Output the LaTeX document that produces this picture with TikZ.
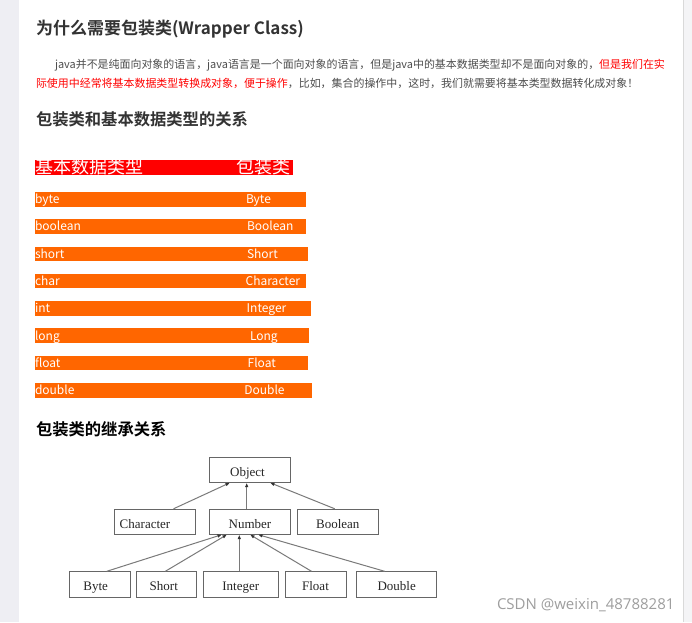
\documentclass[tikz,border=0pt]{standalone}
\usepackage{fontspec}
\setmainfont{Noto Sans CJK SC}[BoldFont={Noto Sans CJK SC Bold}]
\newfontfamily\treefont{Liberation Serif}
\newfontfamily\wmfont{Open Sans}
\usetikzlibrary{arrows.meta}
\definecolor{txt}{HTML}{4D4D4D}
\definecolor{head}{HTML}{333333}
\definecolor{orangebar}{HTML}{FF6600}
\definecolor{redc}{HTML}{FF0000}
\definecolor{side}{HTML}{EEEEF3}
\definecolor{rside}{HTML}{F4F4F6}
\definecolor{boxline}{HTML}{666666}
\definecolor{edgec}{HTML}{7A7A7A}
\definecolor{wmc}{HTML}{9E9E9E}
\begin{document}
\begin{tikzpicture}[x=1pt,y=-1pt,
  lbl/.style={anchor=base west,inner sep=0pt,outer sep=0pt},
  heading/.style={lbl,font=\fontsize{16.3}{18}\selectfont\bfseries,text=head},
  para/.style={lbl,font=\fontsize{10.95}{13}\selectfont},
  rowtext/.style={lbl,font=\fontsize{12}{14}\selectfont,text=white},
  box/.style={draw=boxline,line width=0.8pt,minimum height=25pt,inner sep=0pt,
    text height=12.8pt,text depth=0pt,
    font=\treefont\fontsize{13}{15}\selectfont,text=black!85},
  edge/.style={draw=edgec,line width=1pt,-{Latex[length=4.5pt,width=3.6pt,black!80]}}]
\useasboundingbox (0,0) rectangle (692,622);
\fill[white] (0,0) rectangle (692,622);
\fill[side] (0,0) rectangle (19,622);
\fill[rside] (683,0) rectangle (692,622);
\draw[black!15,line width=0.6pt] (683,0) -- (683,622);

% headings and paragraph
\node[lbl,font=\fontsize{17}{20}\selectfont\bfseries,text=head] (title) at (36,34) {为什么需要包装类(Wrapper Class)};
\node[para] (p1) at (55,68) {\color{txt}java并不是纯面向对象的语言，java语言是一个面向对象的语言，但是java中的基本数据类型却不是面向对象的，\color{redc}但是我们在实};
\node[para] (p2) at (36,87) {\color{redc}际使用中经常将基本数据类型转换成对象，便于操作\color{txt}，比如，集合的操作中，这时，我们就需要将基本类型数据转化成对象！};
\node[heading] (h2) at (36,125) {包装类和基本数据类型的关系};

% table
\fill[redc] (35,160) rectangle (293,174.5);
\node[lbl,font=\fontsize{18}{20}\selectfont,text=white] (th1) at (35,173) {基本数据类型};
\node[lbl,font=\fontsize{18}{20}\selectfont,text=white] (th2) at (236.5,173) {包装类};

\foreach \p/\w/\t/\e/\r [count=\i] in {byte/Byte/192/305.5/246,boolean/Boolean/219/306/247,short/Short/246.5/307.5/247,char/Character/273.5/306/245.7,int/Integer/301/311/246.7,long/Long/328.3/309.3/250,float/Float/355.7/308.3/247.7,double/Double/383/311.7/244.3}{
  \fill[orangebar] (35,\t) rectangle (\e,\t+14.6);
  \node[rowtext] (prim\i) at (35,\t+11.8) {\p};
  \node[rowtext] (wrap\i) at (\r,\t+11.8) {\w};
}

\node[lbl,font=\fontsize{16.3}{18}\selectfont\bfseries,text=black] (h3) at (36,435) {包装类的继承关系};

% tree
\node[box,minimum width=81.4pt] (obj) at (250,469.8) {\hspace*{-5pt}Object};
\node[box,minimum width=81pt] (chr) at (154.5,521.7) {\hspace*{-19pt}Character};
\node[box,minimum width=81.4pt] (num) at (250,521.7) {Number};
\node[box,minimum width=81pt] (bool) at (337.8,521.7) {Boolean};
\node[box,minimum width=60.7pt,minimum height=25.6pt] (byt) at (99.7,584.5) {\hspace*{-8pt}Byte};
\node[box,minimum width=60.7pt,minimum height=25.6pt] (sht) at (166.3,584.5) {\hspace*{-5pt}Short};
\node[box,minimum width=75pt,minimum height=25.6pt] (intg) at (240.8,584.5) {Integer};
\node[box,minimum width=61pt,minimum height=25.6pt] (flt) at (315.5,584.5) {Float};
\node[box,minimum width=80pt,minimum height=25.6pt] (dbl) at (396.7,584.5) {Double};

\draw[edge] ([xshift=19pt]chr.north) -- ([xshift=-20pt]obj.south);
\draw[edge] ([xshift=-3.3pt]num.north) -- ([xshift=-3.3pt]obj.south);
\draw[edge] ([xshift=-3pt]bool.north) -- ([xshift=20pt]obj.south);
\draw[edge] ([xshift=7pt]byt.north) -- ([xshift=-28pt]num.south);
\draw[edge] ([xshift=-1pt]sht.north) -- ([xshift=-23pt]num.south);
\draw[edge] ([xshift=-1.5pt]intg.north) -- ([xshift=-10.7pt]num.south);
\draw[edge] ([xshift=-4pt]flt.north) -- ([xshift=0pt]num.south);
\draw[edge] ([xshift=-12pt]dbl.north) -- ([xshift=8pt]num.south);

% watermark
\node[lbl,font=\wmfont\fontsize{15}{17}\selectfont,text=wmc] (wm) at (497,609) {CSDN @weixin\_48788281};
\end{tikzpicture}
\end{document}
